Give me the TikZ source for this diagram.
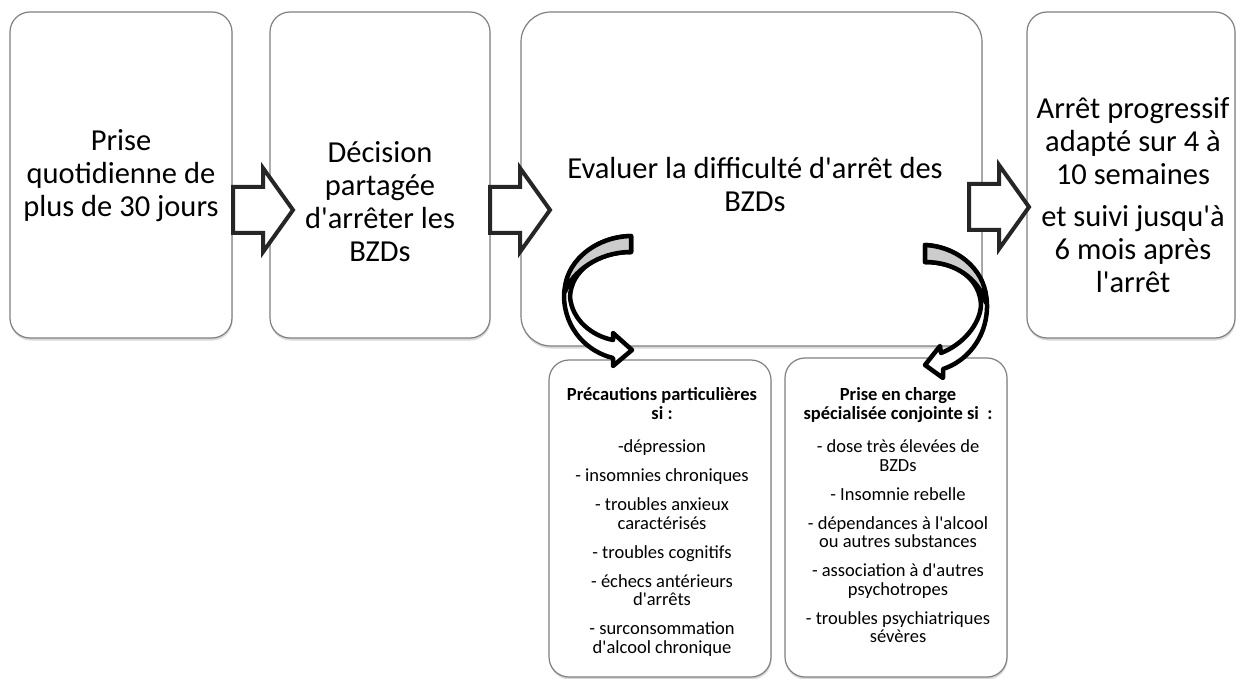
\documentclass[tikz,border=0pt]{standalone}
\usepackage{fontspec}
\setmainfont{Carlito}
\usetikzlibrary{shadows}

\tikzset{
  etape/.style={draw=black!50, line width=1.2pt, fill=white, rounded corners=20pt,
    drop shadow={opacity=.3, shadow xshift=.5pt, shadow yshift=-2.5pt}},
  grandtexte/.style={align=center, inner sep=0pt, anchor=north, font=\fontsize{30.5}{33}\selectfont},
  petittexte/.style={align=center, inner sep=0pt, anchor=north, font=\fontsize{18.5}{18.5}\selectfont},
  fleche/.style={draw=black!85, line width=4pt, fill=white, line join=miter},
  courbe/.style={draw=black, line width=4.5pt, fill=white, line join=round},
  dos/.style={draw=black, line width=4.5pt, fill=black!20, line join=round},
}

\begin{document}
\begin{tikzpicture}[x=1pt, y=-1pt]
  \useasboundingbox (0,0) rectangle (1237,679);

  % etapes
  \node[etape, minimum width=222pt, minimum height=326pt] (prise) at (121,175) {};
  \node[etape, minimum width=220pt, minimum height=326pt] (decision) at (380,175) {};
  \node[etape, minimum width=461pt, minimum height=334pt, rounded corners=30pt] (evaluer) at (751.5,179) {};
  \node[etape, minimum width=208pt, minimum height=326pt] (arret) at (1131,175) {};
  \node[etape, minimum width=222pt, minimum height=317pt] (precautions) at (660,518.5) {};
  \node[etape, minimum width=222pt, minimum height=319pt] (specialisee) at (896,517.5) {};

  % textes
  \node[grandtexte] (tprise) at (121,127) {\strut Prise\\quotidienne de\\plus de 30 jours};
  \node[grandtexte] (tdecision) at (380,139) {\strut D\'ecision\\partag\'ee\\d\textquotesingle{}arr\^eter les\\BZDs};
  \node[grandtexte] (tevaluer) at (755,155) {\strut Evaluer la difficult\'e d\textquotesingle{}arr\^et des\\BZDs};
  \node[grandtexte] (tarret) at (1133,95) {\strut Arr\^et progressif\\adapt\'e sur 4 \`a\\10 semaines\\[9pt]
    et suivi jusqu\textquotesingle{}\`a\\6 mois apr\`es\\l\textquotesingle{}arr\^et};
  \node[petittexte] (tprecautions) at (662,387) {\strut\textbf{Pr\'ecautions particuli\`eres}\\\textbf{si :}\\[14.5pt]
    -d\'epression\\[10.5pt]
    - insomnies chroniques\\[10.5pt]
    - troubles anxieux\\caract\'eris\'es\\[10.5pt]
    - troubles cognitifs\\[10.5pt]
    - \'echecs ant\'erieurs\\d\textquotesingle{}arr\^ets\\[10.5pt]
    - surconsommation\\d\textquotesingle{}alcool chronique};
  \node[petittexte] (tspecialisee) at (898,387) {\strut\textbf{Prise en charge}\\\textbf{sp\'ecialis\'ee conjointe si~ :}\\[14.5pt]
    - dose tr\`es \'elev\'ees de\\BZDs\\[10.5pt]
    - Insomnie rebelle\\[10.5pt]
    - d\'ependances \`a l\textquotesingle{}alcool\\ou autres substances\\[10.5pt]
    - association \`a d\textquotesingle{}autres\\psychotropes\\[10.5pt]
    - troubles psychiatriques\\s\'ev\`eres};

  % fleches
  \draw[fleche, shift={(233,210)}] (0,-23) -- (30,-23) -- (30,-42) -- (60,0) -- (30,42) -- (30,23) -- (0,23) -- cycle;
  \draw[fleche, shift={(490,210)}] (0,-23) -- (30,-23) -- (30,-42) -- (60,0) -- (30,42) -- (30,23) -- (0,23) -- cycle;
  \draw[fleche, shift={(969,207)}] (0,-23) -- (30,-23) -- (30,-42) -- (60,0) -- (30,42) -- (30,23) -- (0,23) -- cycle;

  % fleche courbe gauche
  \draw[courbe] (631,236) .. controls (592,237) and (564,265) .. (564,297)
    .. controls (565,330) and (588,352) .. (613,358) -- (613,366) -- (632,350) -- (613,333) -- (613,340)
    .. controls (592,336) and (572,320) .. (570,297)
    .. controls (571,270) and (598,252) .. (631,252) -- cycle;
  \draw[dos] (631,236) .. controls (592,237) and (564,265) .. (565,292)
    .. controls (572,272) and (598,252) .. (631,252) -- cycle;

  % fleche courbe droite
  \draw[courbe] (925,245) .. controls (962,247) and (988,275) .. (987,308)
    .. controls (986,340) and (965,362) .. (943,369) -- (943,378) -- (925,365) -- (940,346) -- (941,353)
    .. controls (962,345) and (980,325) .. (981,305)
    .. controls (980,280) and (958,262) .. (925,262) -- cycle;
  \draw[dos] (925,245) .. controls (962,247) and (988,275) .. (986,303)
    .. controls (978,278) and (955,262) .. (925,262) -- cycle;
\end{tikzpicture}
\end{document}
